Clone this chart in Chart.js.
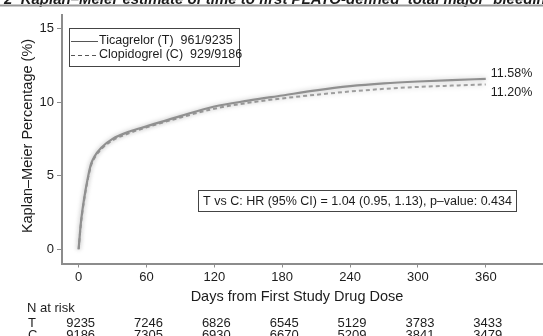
<!DOCTYPE html>
<html>
<head>
<meta charset="utf-8">
<script src="https://cdn.jsdelivr.net/npm/chart.js@4"></script>
<style>
  html, body { margin: 0; padding: 0; background: #fff; }
  #wrap { width: 543px; height: 336px; position: relative; }
</style>
</head>
<body>
<div id="wrap"><canvas id="km" width="543" height="336"></canvas></div>
<script>
// values
const days        = [0, 2, 5, 8, 11, 14, 20, 30, 45, 60, 90, 120, 150, 180, 210, 240, 270, 300, 330, 360];
const ticagrelor  = [0, 1.8, 3.5, 4.8, 5.8, 6.3, 6.9, 7.5, 8.0, 8.35, 9.05, 9.7, 10.1, 10.45, 10.8, 11.08, 11.27, 11.4, 11.5, 11.58];
const clopidogrel = [0, 1.7, 3.4, 4.7, 5.7, 6.2, 6.8, 7.4, 7.9, 8.28, 8.95, 9.55, 9.95, 10.25, 10.5, 10.72, 10.9, 11.03, 11.12, 11.20];
const seriesLabels = ['Ticagrelor (T)  961/9235', 'Clopidogrel (C)  929/9186'];
const endLabels = ['11.58%', '11.20%'];
const xTicks = [0, 60, 120, 180, 240, 300, 360];
const yTicks = [0, 5, 10, 15];
const riskRows = ['T', 'C'];
const riskT = [9235, 7246, 6826, 6545, 5129, 3783, 3433];
const riskC = [9186, 7305, 6930, 6670, 5209, 3841, 3479];
const hrText = 'T vs C: HR (95% CI) = 1.04 (0.95, 1.13), p\u2013value: 0.434';

const FONT = '"Liberation Sans", Arial, sans-serif';
const INK = '#1c1c1c';
const AXIS = '#8c8c8c';

function toPoints(vals) {
  return days.map((d, i) => ({ x: d, y: vals[i] }));
}

// soft halo round the curves, like the scanned original
const halo = {
  id: 'halo',
  beforeDatasetsDraw(chart) {
    const ctx = chart.ctx;
    ctx.save();
    ctx.shadowColor = 'rgba(0,0,0,0.25)';
    ctx.shadowBlur = 5;
  },
  afterDatasetsDraw(chart) {
    chart.ctx.restore();
  }
};

const extras = {
  id: 'extras',
  afterDraw(chart) {
    const ctx = chart.ctx;
    const xs = chart.scales.x, ys = chart.scales.y;
    ctx.save();
    ctx.fillStyle = INK;

    // cut-off heading at the very top
    ctx.font = 'italic bold 15px ' + FONT;
    ctx.textBaseline = 'alphabetic';
    ctx.textAlign = 'left';
    ctx.fillText('2  Kaplan\u2013Meier estimate of time to first PLATO-defined \u2018total major\u2019 bleeding', 4, 4);
    ctx.fillStyle = '#999';
    ctx.fillRect(0, 4.5, 543, 2);
    ctx.fillStyle = INK;

    // legend box
    ctx.strokeStyle = '#444';
    ctx.lineWidth = 1;
    ctx.strokeRect(69.5, 28.5, 170, 38);
    ctx.font = '12.5px ' + FONT;
    ctx.textBaseline = 'middle';
    chart.data.datasets.forEach((ds, i) => {
      const y = 41 + i * 14;
      ctx.strokeStyle = '#555';
      ctx.lineWidth = 1;
      ctx.setLineDash(ds.borderDash || []);
      ctx.beginPath();
      ctx.moveTo(71, y + 0.5);
      ctx.lineTo(98, y + 0.5);
      ctx.stroke();
      ctx.setLineDash([]);
      ctx.fillText(seriesLabels[i], 99, y);
    });

    // hazard ratio box
    ctx.strokeStyle = '#444';
    ctx.strokeRect(198.5, 190.5, 318, 21);
    ctx.textAlign = 'center';
    ctx.fillText(hrText, 357.5, 201.5);

    // end labels
    ctx.textAlign = 'left';
    const xEnd = xs.getPixelForValue(360) + 5;
    ctx.fillText(endLabels[0], xEnd, ys.getPixelForValue(ticagrelor[ticagrelor.length - 1]) - 5);
    ctx.fillText(endLabels[1], xEnd, ys.getPixelForValue(clopidogrel[clopidogrel.length - 1]) + 8);

    // axis titles
    ctx.font = '14.5px ' + FONT;
    ctx.textAlign = 'center';
    ctx.fillText('Days from First Study Drug Dose', 297, 297);
    ctx.save();
    ctx.translate(28, 136);
    ctx.rotate(-Math.PI / 2);
    ctx.fillText('Kaplan\u2013Meier Percentage (%)', 0, 0);
    ctx.restore();

    // number at risk table
    ctx.font = '13px ' + FONT;
    ctx.textAlign = 'left';
    ctx.fillText('N at risk', 27, 308);
    [riskT, riskC].forEach((row, r) => {
      const y = 323 + r * 12;
      ctx.textAlign = 'left';
      ctx.fillText(riskRows[r], 28, y);
      ctx.textAlign = 'center';
      row.forEach((n, i) => {
        ctx.fillText(String(n), xs.getPixelForValue(xTicks[i]) + 2, y);
      });
    });
    ctx.restore();
  }
};

new Chart(document.getElementById('km'), {
  type: 'line',
  data: {
    datasets: [
      {
        label: seriesLabels[0],
        data: toPoints(ticagrelor),
        borderColor: '#909090',
        borderWidth: 2.2,
        pointRadius: 0,
        cubicInterpolationMode: 'monotone'
      },
      {
        label: seriesLabels[1],
        data: toPoints(clopidogrel),
        borderColor: '#a0a0a0',
        borderWidth: 2,
        borderDash: [4, 3],
        pointRadius: 0,
        cubicInterpolationMode: 'monotone'
      }
    ]
  },
  options: {
    responsive: false,
    animation: false,
    devicePixelRatio: 1,
    layout: { padding: { top: 15, right: 0, left: 0, bottom: 0 } },
    plugins: {
      legend: { display: false },
      tooltip: { enabled: false }
    },
    scales: {
      x: {
        type: 'linear',
        min: -14.7,
        max: 410.6,
        afterBuildTicks: scale => { scale.ticks = xTicks.map(v => ({ value: v })); },
        afterFit: scale => { scale.height = 72.5; },
        ticks: { color: INK, font: { family: FONT, size: 13 }, padding: 2, maxRotation: 0, autoSkip: false },
        grid: { drawOnChartArea: false, drawTicks: true, tickLength: 4, color: AXIS, lineWidth: 1 },
        border: { display: true, color: AXIS, width: 2 }
      },
      y: {
        min: -0.97,
        max: 15.92,
        afterBuildTicks: scale => { scale.ticks = yTicks.map(v => ({ value: v })); },
        afterFit: scale => { scale.width = 62; },
        ticks: { color: INK, font: { family: FONT, size: 13 }, padding: 3 },
        grid: { drawOnChartArea: false, drawTicks: true, tickLength: 5, color: AXIS, lineWidth: 1 },
        border: { display: true, color: AXIS, width: 2 }
      }
    }
  },
  plugins: [halo, extras]
});
</script>
</body>
</html>
